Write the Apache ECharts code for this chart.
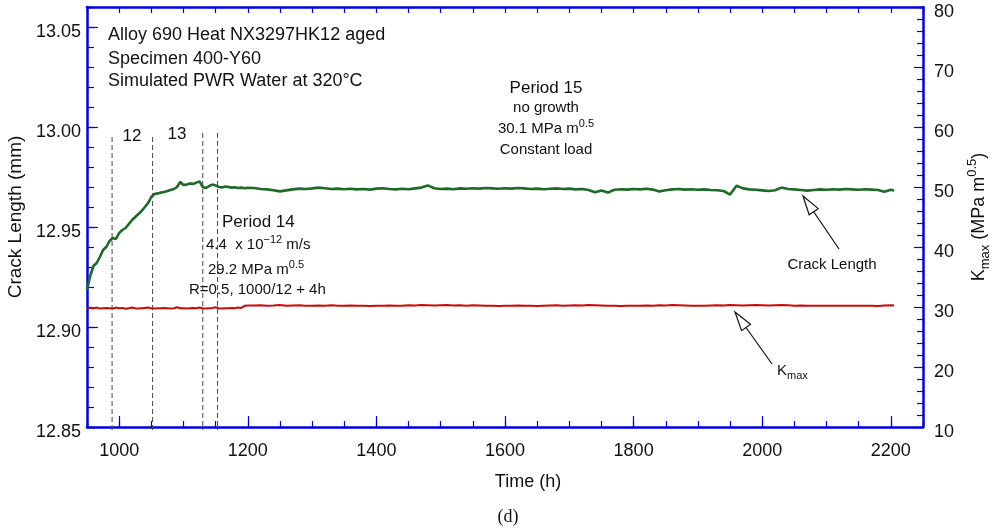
<!DOCTYPE html>
<html>
<head>
<meta charset="utf-8">
<script src="https://cdn.jsdelivr.net/npm/echarts@6.0.0/dist/echarts.min.js"></script>
<style>
html,body{margin:0;padding:0;background:#fff;}
#chart{width:992px;height:531px;}
</style>
</head>
<body>
<div id="chart"></div>
<script>
// ---------------- DATA ----------------
const timeH = [
 950,955,960,965,970,975,980,985,990,995,
 1000,1005,1010,1015,1020,1025,1030,1035,1040,1045,
 1050,1055,1060,1065,1070,1075,1080,1085,1090,1095,
 1100,1105,1110,1115,1120,1125,1130,1135,1140,1145,
 1150,1155,1160,1165,1170,1175,1180,1185,1190,1195,1200,
 1210,1220,1230,1240,1250,1260,1270,1280,1290,1300,
 1310,1320,1330,1340,1350,1360,1370,1380,1390,1400,
 1410,1420,1430,1440,1450,1460,1470,1480,1490,1500,
 1510,1520,1530,1540,1550,1560,1570,1580,1590,1600,
 1610,1620,1630,1640,1650,1660,1670,1680,1690,1700,
 1710,1720,1730,1740,1750,1760,1770,1780,1790,1800,
 1810,1820,1830,1840,1850,1860,1870,1880,1890,1900,
 1910,1920,1930,1940,1950,1960,1970,1980,1990,2000,
 2010,2020,2030,2040,2050,2060,2070,2080,2090,2100,
 2110,2120,2130,2140,2150,2160,2170,2180,2190,2200,
 2205
];
const crackLength = [
 12.9185,12.9255,12.9305,12.9320,12.9350,12.9385,12.9400,12.9430,12.9445,12.9440,
 12.9470,12.9485,12.9495,12.9515,12.9535,12.9550,12.9565,12.9580,12.9600,12.9620,
 12.9650,12.9665,12.9668,12.9672,12.9675,12.9680,12.9685,12.9690,12.9700,12.9725,
 12.9710,12.9712,12.9718,12.9715,12.9722,12.9728,12.9700,12.9695,12.9705,12.9712,
 12.9708,12.9700,12.9698,12.9702,12.9700,12.9697,12.9699,12.9695,12.9697,12.9694,12.9696,
 12.9695,12.9690,12.9688,12.9684,12.9678,12.9683,12.9688,12.9692,12.9690,12.9693,
 12.9697,12.9694,12.9690,12.9692,12.9689,12.9691,12.9688,12.9690,12.9687,12.9692,
 12.9694,12.9690,12.9688,12.9691,12.9689,12.9693,12.9697,12.9708,12.9694,12.9690,
 12.9692,12.9689,12.9693,12.9691,12.9694,12.9692,12.9695,12.9693,12.9691,12.9694,
 12.9692,12.9695,12.9693,12.9690,12.9692,12.9689,12.9691,12.9693,12.9690,12.9692,
 12.9688,12.9690,12.9685,12.9674,12.9683,12.9672,12.9686,12.9689,12.9687,12.9690,
 12.9688,12.9691,12.9687,12.9678,12.9684,12.9688,12.9690,12.9687,12.9689,12.9686,
 12.9688,12.9685,12.9684,12.9680,12.9662,12.9706,12.9693,12.9688,12.9686,12.9683,
 12.9680,12.9684,12.9697,12.9690,12.9688,12.9685,12.9682,12.9685,12.9688,12.9686,
 12.9689,12.9687,12.9690,12.9688,12.9686,12.9689,12.9687,12.9685,12.9676,12.9686,
 12.9682
];
const kMax = [
 29.70,29.85,29.80,29.90,29.75,29.80,29.85,29.80,29.75,29.90,
 29.80,29.85,29.70,29.80,29.90,29.80,29.75,29.80,29.85,29.90,
 29.80,29.75,29.80,29.80,29.85,29.80,29.75,29.80,29.95,29.80,
 29.80,29.75,29.80,29.85,29.80,29.90,29.80,29.75,29.80,29.85,
 29.95,29.80,29.75,29.80,29.80,29.85,29.80,29.90,29.85,30.20,30.25,
 30.25,30.30,30.20,30.25,30.35,30.20,30.25,30.30,30.20,30.20,
 30.25,30.20,30.30,30.20,30.20,30.25,30.20,30.20,30.15,30.20,
 30.20,30.25,30.20,30.20,30.30,30.25,30.35,30.30,30.25,30.30,
 30.35,30.25,30.30,30.20,30.30,30.25,30.20,30.20,30.15,30.20,
 30.20,30.25,30.20,30.20,30.15,30.20,30.25,30.30,30.20,30.25,
 30.30,30.25,30.35,30.30,30.25,30.20,30.20,30.15,30.20,30.20,
 30.20,30.25,30.20,30.30,30.25,30.35,30.30,30.25,30.20,30.20,
 30.20,30.25,30.30,30.25,30.35,30.30,30.25,30.30,30.35,30.30,
 30.25,30.30,30.35,30.30,30.20,30.25,30.20,30.20,30.20,30.20,
 30.20,30.20,30.20,30.20,30.20,30.20,30.20,30.15,30.25,30.30,
 30.25
];
const xTickLabels = [1000,1200,1400,1600,1800,2000,2200];
const leftTickLabels = [12.85,12.90,12.95,13.00,13.05];
const periodBoundaries = [989, 1052, 1130, 1153];
const boundaryTops = [12.995, 12.995, 12.997, 12.997];
const boundaryBottom = 12.8485;

// ---------------- STYLE ----------------
const FONT = "'Liberation Sans', Arial, Helvetica, sans-serif";
const BLUE = '#0000e6';
const GREEN = '#1b6a26';
const RED = '#cc0a0a';
const INK = '#111';

const chart = echarts.init(document.getElementById('chart'), null, {renderer:'canvas'});

const crackData = timeH.map((t,i)=>[t, crackLength[i]]);
const kData = timeH.map((t,i)=>[t, kMax[i]]);

function txt(x, y, text, size, align) {
  return {type:'text', x:x, y:y, silent:true,
    style:{text:text, fontSize:size, fontFamily:FONT, fill:INK, align:align||'left', verticalAlign:'middle'}};
}
function richTxt(x, y, text, size, align, supSize) {
  return {type:'text', x:x, y:y, silent:true,
    style:{text:text, fontFamily:FONT, fill:INK, align:align||'left', verticalAlign:'middle',
      rich:{
        a:{fontSize:size, fontFamily:FONT, fill:INK, lineHeight:size+6, verticalAlign:'middle'},
        sup:{fontSize:supSize, fontFamily:FONT, fill:INK, verticalAlign:'top'},
        sub:{fontSize:supSize, fontFamily:FONT, fill:INK, verticalAlign:'bottom'}
      }}};
}
function arrow(tail, tip, headLen, halfW) {
  const dx = tip[0]-tail[0], dy = tip[1]-tail[1];
  const L = Math.sqrt(dx*dx+dy*dy);
  const ux = dx/L, uy = dy/L, nx = -uy, ny = ux;
  const bx = tip[0]-ux*headLen, by = tip[1]-uy*headLen;
  return [
    {type:'line', silent:true, shape:{x1:tail[0], y1:tail[1], x2:bx, y2:by},
      style:{stroke:'#111', lineWidth:1.2}},
    {type:'polygon', silent:true, shape:{points:[[tip[0],tip[1]],[bx+nx*halfW,by+ny*halfW],[bx-nx*halfW,by-ny*halfW]]},
      style:{fill:'#fff', stroke:'#111', lineWidth:1.2}}
  ];
}

const boundarySeries = periodBoundaries.map((t,i)=>({
  name:'boundary'+i, type:'line', xAxisIndex:0, yAxisIndex:0,
  data:[[t, boundaryTops[i]],[t, boundaryBottom]],
  showSymbol:false, symbol:'none', clip:false, silent:true,
  lineStyle:{type:[5,3], color:'#444', width:1}, z:2
}));

const option = {
  animation:false,
  backgroundColor:'#fff',
  grid:{left:87, right:69, top:7, bottom:104, containLabel:false, outerBoundsMode:'none'},
  xAxis:[
    {type:'value', position:'bottom', min:950, max:2250, interval:50,
      name:'Time (h)', nameLocation:'middle', nameGap:46,
      nameTextStyle:{fontSize:18, fontFamily:FONT, color:INK, padding:[0,0,0,46]},
      axisLine:{show:true, lineStyle:{color:BLUE, width:2.5}},
      axisTick:{show:true, inside:true, length:6, lineStyle:{color:BLUE, width:1.2}},
      axisLabel:{customValues:xTickLabels, fontSize:18, fontFamily:FONT, color:INK, margin:15,
        formatter:v=>String(v)},
      splitLine:{show:false}},
    {type:'value', position:'bottom', min:950, max:2250,
      axisLine:{show:false},
      axisTick:{show:true, inside:true, length:11, customValues:xTickLabels, lineStyle:{color:BLUE, width:1.2}},
      axisLabel:{show:false}, splitLine:{show:false}},
    {type:'value', position:'top', min:950, max:2250, interval:50,
      axisLine:{show:true, lineStyle:{color:BLUE, width:2.5}},
      axisTick:{show:true, inside:true, length:6, lineStyle:{color:BLUE, width:1.2}},
      axisLabel:{show:false}, splitLine:{show:false}}
  ],
  yAxis:[
    {type:'value', position:'left', min:12.85, max:13.06,
      name:'Crack Length (mm)', nameLocation:'middle', nameGap:56, nameRotate:90,
      nameTextStyle:{fontSize:19, fontFamily:FONT, color:INK},
      axisLine:{show:true, lineStyle:{color:BLUE, width:2.5}},
      axisTick:{show:true, inside:true, length:11, customValues:leftTickLabels, lineStyle:{color:BLUE, width:1.2}},
      axisLabel:{customValues:leftTickLabels, fontSize:18, fontFamily:FONT, color:INK, margin:6,
        verticalAlign:'top', lineHeight:10, formatter:v=>v.toFixed(2)},
      splitLine:{show:false}},
    {type:'value', position:'left', min:12.85, max:13.06, interval:0.01,
      axisLine:{show:false},
      axisTick:{show:true, inside:true, length:7, lineStyle:{color:BLUE, width:1.2}},
      axisLabel:{show:false}, splitLine:{show:false}},
    {type:'value', position:'right', min:10, max:80, interval:10,
      name:'{a|K}{b|max}{a| (MPa m}{c|0.5}{a|)}', nameLocation:'middle', nameGap:43, nameRotate:90,
      nameTextStyle:{fontSize:18, fontFamily:FONT, color:INK,
        rich:{a:{fontSize:18, fontFamily:FONT, color:INK, lineHeight:26, verticalAlign:'middle'},
              b:{fontSize:13, fontFamily:FONT, color:INK, verticalAlign:'bottom'},
              c:{fontSize:13, fontFamily:FONT, color:INK, verticalAlign:'top'}}},
      axisLine:{show:true, lineStyle:{color:BLUE, width:2.5}},
      axisTick:{show:true, inside:true, length:9, lineStyle:{color:BLUE, width:1.2}},
      minorTick:{show:true, splitNumber:5, length:6, lineStyle:{color:BLUE, width:1.2}},
      axisLabel:{fontSize:18, fontFamily:FONT, color:INK, margin:11, verticalAlign:'top', lineHeight:10},
      splitLine:{show:false}}
  ],
  series:[
    {name:'Crack Length', type:'line', xAxisIndex:0, yAxisIndex:0, data:crackData,
      showSymbol:false, symbol:'none', clip:true,
      lineStyle:{color:GREEN, width:2.6}, z:3},
    {name:'Kmax', type:'line', xAxisIndex:0, yAxisIndex:2, data:kData,
      showSymbol:false, symbol:'none', clip:true,
      lineStyle:{color:RED, width:2}, z:3}
  ].concat(boundarySeries),
  graphic:[].concat(
    [
      txt(108, 35, 'Alloy 690 Heat NX3297HK12 aged', 18),
      txt(108, 59, 'Specimen 400-Y60', 18),
      txt(108, 81, 'Simulated PWR Water at 320°C', 18),
      txt(132, 136, '12', 17, 'center'),
      txt(177, 134, '13', 17, 'center'),
      txt(546, 88, 'Period 15', 17, 'center'),
      txt(546, 108, 'no growth', 15, 'center'),
      richTxt(546, 129, '{a|30.1 MPa m}{sup|0.5}', 15, 'center', 11),
      txt(546, 150, 'Constant load', 15, 'center'),
      txt(222, 222, 'Period 14', 17),
      richTxt(206, 245, '{a|4.4  x 10}{sup|\u221212}{a| m/s}', 15, 'left', 11),
      richTxt(208, 270, '{a|29.2 MPa m}{sup|0.5}', 15, 'left', 11),
      txt(189, 290, 'R=0.5, 1000/12 + 4h', 15),
      txt(832, 265, 'Crack Length', 15, 'center'),
      richTxt(777, 371, '{a|K}{sub|max}', 15, 'left', 11),
      {type:'text', x:508, y:517, silent:true,
        style:{text:'(d)', fontSize:18, fontFamily:"'Liberation Serif', 'Times New Roman', serif", fill:INK, align:'center', verticalAlign:'middle'}}
    ],
    arrow([839,249],[803,196],19,5.5),
    arrow([772,364],[735,312],19,5.5)
  )
};
chart.setOption(option);
</script>
</body>
</html>
